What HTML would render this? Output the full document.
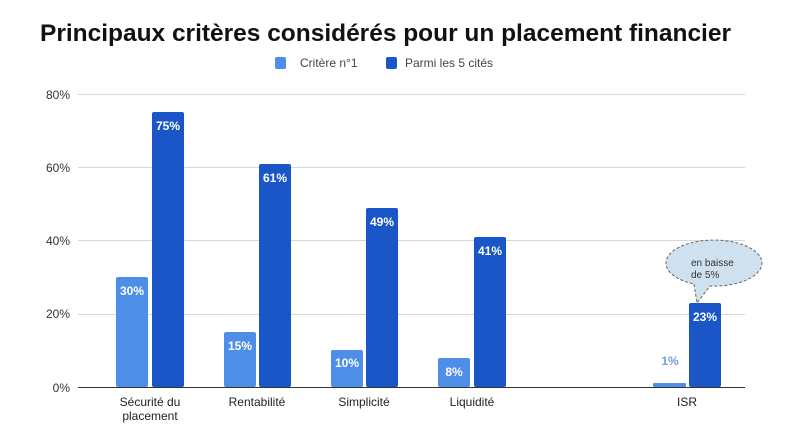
<!DOCTYPE html>
<html><head><meta charset="utf-8"><style>
body{margin:0;background:#fff}
svg{display:block;font-family:"Liberation Sans",Arial,sans-serif}
</style></head><body>
<svg width="800" height="434" viewBox="0 0 800 434">
<text x="40" y="41" font-size="24" font-weight="bold" fill="#111" textLength="691" lengthAdjust="spacingAndGlyphs">Principaux critères considérés pour un placement financier</text>
<rect x="275" y="57" width="11" height="12" rx="2" fill="#4f8ee8"/>
<text x="300" y="67" font-size="12" fill="#444">Critère n°1</text>
<rect x="386" y="57" width="11" height="12" rx="2" fill="#1a56c8"/>
<text x="405" y="67" font-size="12" fill="#444">Parmi les 5 cités</text>
<g stroke="#d6d6d6" stroke-width="1">
<line x1="78" x2="745" y1="94.5" y2="94.5"/>
<line x1="78" x2="745" y1="167.5" y2="167.5"/>
<line x1="78" x2="745" y1="240.5" y2="240.5"/>
<line x1="78" x2="745" y1="314.5" y2="314.5"/>
</g>
<g font-size="12" fill="#333" text-anchor="end">
<text x="70" y="99">80%</text><text x="70" y="172">60%</text><text x="70" y="245">40%</text><text x="70" y="318">20%</text><text x="70" y="392">0%</text>
</g>
<g fill="#4f8ee8">
<rect x="116" y="277" width="32" height="110" rx="2"/>
<rect x="224" y="332" width="32" height="55" rx="2"/>
<rect x="331" y="350" width="32" height="37" rx="2"/>
<rect x="438" y="358" width="32" height="29" rx="2"/>
<rect x="653" y="383" width="33" height="4" rx="1"/>
</g>
<g fill="#1a56c8">
<rect x="152" y="112" width="32" height="275" rx="2"/>
<rect x="259" y="164" width="32" height="223" rx="2"/>
<rect x="366" y="208" width="32" height="179" rx="2"/>
<rect x="474" y="237" width="32" height="150" rx="2"/>
<rect x="689" y="303" width="32" height="84" rx="2"/>
</g>
<line x1="78" x2="745" y1="387.5" y2="387.5" stroke="#333" stroke-width="1"/>
<g font-size="12" font-weight="bold" fill="#fff" text-anchor="middle">
<text x="132" y="295">30%</text><text x="240" y="350">15%</text><text x="347" y="367">10%</text><text x="454" y="376">8%</text>
<text x="168" y="130">75%</text><text x="275" y="182">61%</text><text x="382" y="226">49%</text><text x="490" y="255">41%</text><text x="705" y="321">23%</text>
</g>
<text x="670" y="365" font-size="12" font-weight="bold" fill="#6fa0e8" text-anchor="middle">1%</text>
<g font-size="12" fill="#222" text-anchor="middle">
<text x="150" y="406">Sécurité du</text><text x="150" y="420">placement</text>
<text x="257" y="406">Rentabilité</text>
<text x="364" y="406">Simplicité</text>
<text x="472" y="406">Liquidité</text>
<text x="687" y="406">ISR</text>
</g>
<path d="M694 284 L697 303 L710 286 A48 23 0 1 0 694 284 Z" fill="#cfe0ee" stroke="#666" stroke-width="1" stroke-dasharray="3,2"/>
<text x="691" y="266" font-size="10" fill="#333">en baisse</text>
<text x="691" y="278" font-size="10" fill="#333">de 5%</text>
</svg>
</body></html>
